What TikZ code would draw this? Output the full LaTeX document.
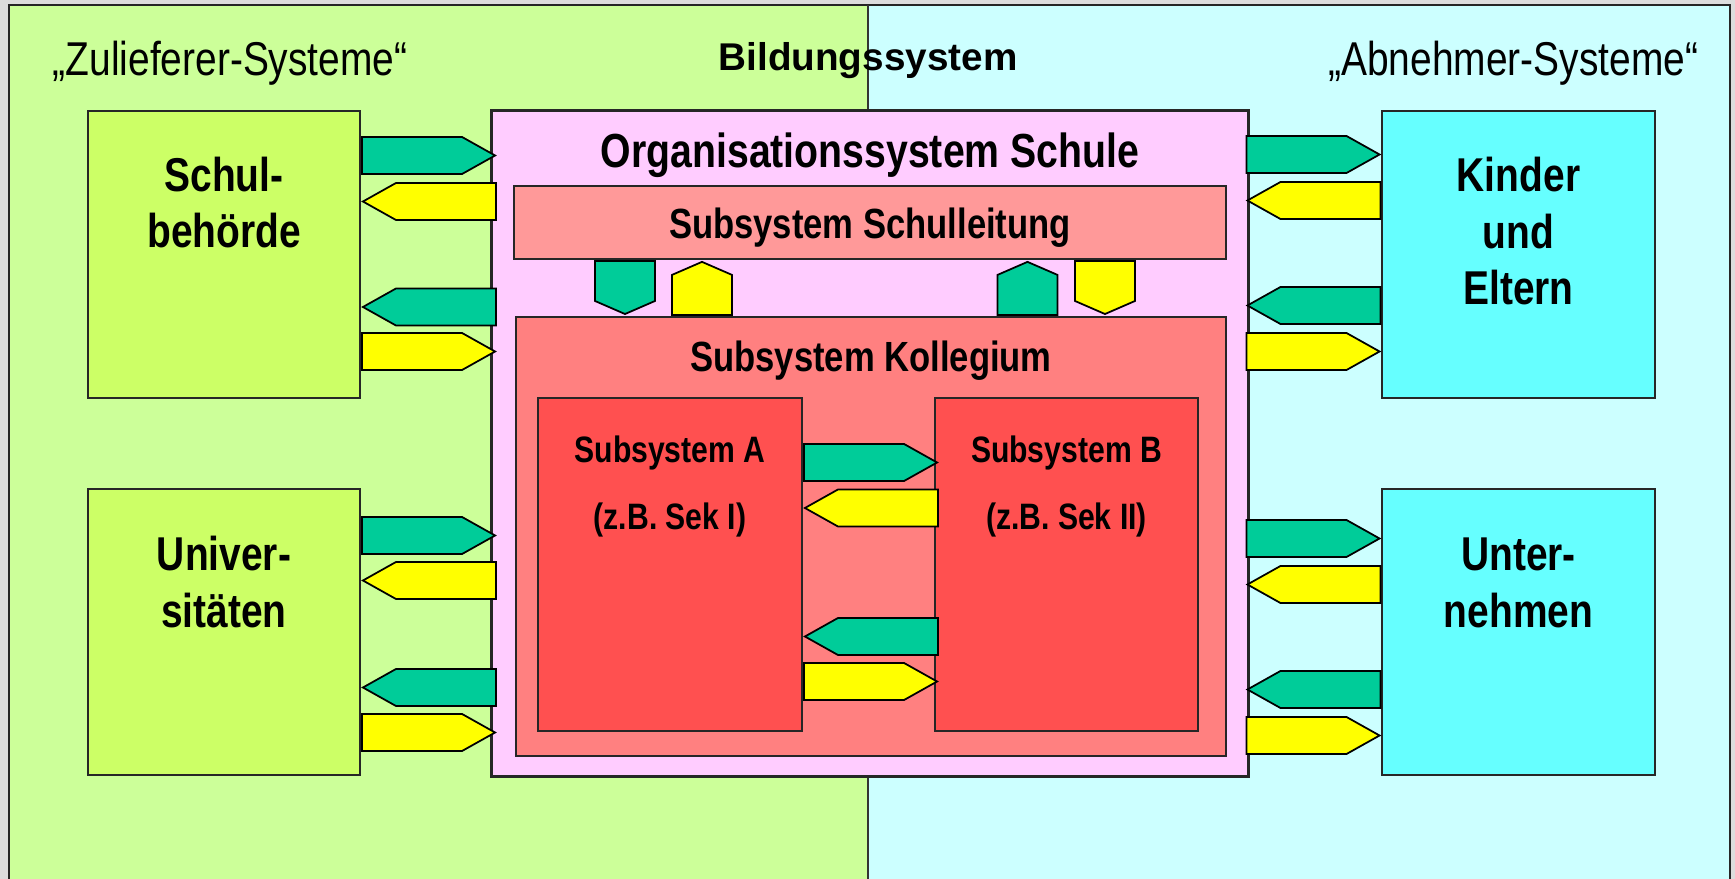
\documentclass[tikz,border=0pt]{standalone}
\usepackage{fontspec}
\setmainfont{Liberation Sans}[FakeStretch=0.82]
\newfontfamily\wideface{Liberation Sans}
\usetikzlibrary{shapes.symbols,positioning,calc}

\definecolor{greyback}{HTML}{DDDDDD}
\definecolor{supplyback}{HTML}{CCFF99}
\definecolor{buyerback}{HTML}{CCFFFF}
\definecolor{supplybox}{HTML}{CCFF66}
\definecolor{buyerbox}{HTML}{66FFFF}
\definecolor{schoolpink}{HTML}{FFCCFF}
\definecolor{leadred}{HTML}{FF9999}
\definecolor{staffred}{HTML}{FF8080}
\definecolor{subred}{HTML}{FF5050}
\definecolor{flowgreen}{HTML}{00CC99}
\definecolor{flowyellow}{HTML}{FFFF00}

\tikzstyle{frame}=[draw=black!85, line width=0.7pt]
\tikzstyle{divider}=[draw=black!80, line width=0.5pt]
\tikzstyle{sysbox}=[rectangle, draw=black!85, line width=0.6pt, inner sep=0pt]
\tikzstyle{flow}=[signal, draw=black, line width=0.5pt, inner sep=0pt, minimum width=1.33cm, minimum height=0.37cm, signal pointer angle=58.5, signal from=nowhere]
\tikzstyle{drop}=[signal, draw=black, line width=0.5pt, inner sep=0pt, minimum width=0.6cm, minimum height=0.40cm, signal pointer angle=133, signal from=nowhere]
\tikzstyle{heading}=[inner sep=0pt, font=\fontsize{13.5}{16}\selectfont]
\tikzstyle{bigtitle}=[inner sep=0pt, anchor=base, font=\wideface\fontsize{11}{13}\selectfont\bfseries]
\tikzstyle{boxlabel}=[align=center, inner sep=0pt, anchor=base, font=\fontsize{13.5}{16.2}\selectfont\bfseries]
\tikzstyle{schooltitle}=[inner sep=0pt, anchor=base, font=\fontsize{13.6}{16}\selectfont\bfseries]
\tikzstyle{parttitle}=[inner sep=0pt, anchor=base, font=\fontsize{12}{14}\selectfont\bfseries]
\tikzstyle{sublabel}=[align=center, inner sep=0pt, anchor=base, font=\fontsize{10.45}{19.06}\selectfont\bfseries]

\begin{document}
\begin{tikzpicture}[x=0.01cm, y=-0.01cm]
	\useasboundingbox (0,0) rectangle (1735,879);
	%Background: supplier side and customer side
	\fill[greyback] (0,0) rectangle (1735,879);
	\fill[supplyback] (9,5) rectangle (868,879);
	\fill[buyerback] (868,5) rectangle (1730,879);
	\draw[frame] (9,879) -- (9,5) -- (1730,5) -- (1730,879);
	\draw[divider] (868,5) -- (868,879);
	%Headings
	\node[heading, anchor=base west] (zuliefer) at (52,76) {„Zulieferer-Systeme“};
	\node[heading, anchor=base east] (abnehmer) at (1699,76) {„Abnehmer-Systeme“};
	\node[bigtitle] (bildung) at (868,71) {Bildungssystem};
	%The outer systems
	\foreach \pos/\name/\col in {{(224,254.5)/schul/supplybox},	{(224,632)/univ/supplybox},
								 {(1518.5,254.5)/kinder/buyerbox},	{(1518.5,632)/unter/buyerbox}}
	\node[sysbox, fill=\col, minimum width=2.72cm, minimum height=2.86cm] (\name) at \pos {};
	%The school and its subsystems
	\node[sysbox, fill=schoolpink, line width=0.8pt, minimum width=7.56cm, minimum height=6.65cm] (schule) at (870,443.5) {};
	\node[sysbox, fill=leadred, minimum width=7.12cm, minimum height=0.73cm] (leitung) at (870,222.5) {};
	\node[sysbox, fill=staffred, minimum width=7.10cm, minimum height=4.39cm] (kollegium) at (871,536.5) {};
	\node[sysbox, fill=subred, minimum width=2.64cm, minimum height=3.33cm] (suba) at (670,564.5) {};
	\node[sysbox, fill=subred, minimum width=2.63cm, minimum height=3.33cm] (subb) at (1066.5,564.5) {};
	%Labels (base = last line)
	\node[boxlabel] (schultxt) at (224,248) {Schul-\\behörde};
	\node[boxlabel] (univtxt) at (224,627) {Univer-\\sitäten};
	\node[boxlabel] (kindertxt) at (1518.5,305) {Kinder\\und\\Eltern};
	\node[boxlabel] (untertxt) at (1518.5,627) {Unter-\\nehmen};
	\node[schooltitle] (schuletxt) at (870,168) {Organisationssystem Schule};
	\node[parttitle] (leitungtxt) at (870,239) {Subsystem Schulleitung};
	\node[parttitle] (kollegiumtxt) at (871,372) {Subsystem Kollegium};
	\node[sublabel] (subatxt) at (670,530) {Subsystem A\\(z.B. Sek I)};
	\node[sublabel] (subbtxt) at (1066.5,530) {Subsystem B\\(z.B. Sek II)};
	%Flows on the supplier side
	\foreach \from/\y/\col/\dir/\name in {schul/155.5/flowgreen/east/sf1,	schul/201.5/flowyellow/west/sf2,
										  schul/307/flowgreen/west/sf3,	schul/351.5/flowyellow/east/sf4,
										  univ/535.5/flowgreen/east/uf1,	univ/580.5/flowyellow/west/uf2,
										  univ/687.5/flowgreen/west/uf3,	univ/732.5/flowyellow/east/uf4,
										  suba/462.5/flowgreen/east/af1,	suba/508/flowyellow/west/af2,
										  suba/636.5/flowgreen/west/af3,	suba/681.5/flowyellow/east/af4}
	\node[flow, fill=\col, signal to=\dir, anchor=west] (\name) at (\from.east |- 0,\y) {};
	%Flows on the customer side
	\foreach \to/\y/\col/\dir/\name in {kinder/154.5/flowgreen/east/kf1,	kinder/200.5/flowyellow/west/kf2,
										kinder/305.5/flowgreen/west/kf3,	kinder/351.5/flowyellow/east/kf4,
										unter/538.5/flowgreen/east/nf1,	unter/584.5/flowyellow/west/nf2,
										unter/689.5/flowgreen/west/nf3,	unter/735.5/flowyellow/east/nf4}
	\node[flow, fill=\col, signal to=\dir, anchor=east] (\name) at (\to.west |- 0,\y) {};
	%Flows between Schulleitung and Kollegium
	\node[drop, fill=flowgreen, signal to=south, anchor=north] (lf1) at (leitung.south -| 625,0) {};
	\node[drop, fill=flowyellow, signal to=north, anchor=south] (lf2) at (kollegium.north -| 702,0) {};
	\node[drop, fill=flowgreen, signal to=north, anchor=south] (lf3) at (kollegium.north -| 1027.5,0) {};
	\node[drop, fill=flowyellow, signal to=south, anchor=north] (lf4) at (leitung.south -| 1105,0) {};
\end{tikzpicture}
\end{document}
